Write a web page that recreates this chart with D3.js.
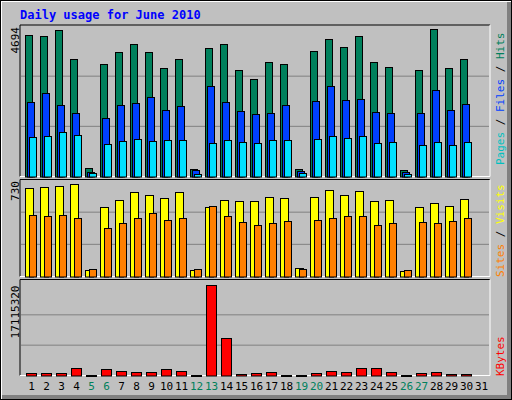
<!DOCTYPE html>
<html><head><meta charset="utf-8">
<script src="https://cdn.jsdelivr.net/npm/d3@7"></script>
<style>body{margin:0;background:#fff}svg{display:block}text{font-family:'DejaVu Sans Mono',monospace}</style>
</head><body>
<div id="chart"></div>
<script>
const days = d3.range(1, 32)
const weekend = [5, 6, 12, 13, 19, 20, 26, 27]
const hits = [4412,4371,4559,3651,272,3495,3871,4121,3871,3370,3651,241,3996,4121,3307,3026,3558,3495,241,3902,4277,4027,4371,3558,3401,210,3307,4590,3370,3651,0]
const files = [2337,2619,2243,1993,147,1837,2243,2306,2494,2087,2212,210,2838,2337,2056,1962,1993,2243,178,2369,2838,2400,2431,2024,1993,147,1993,2713,2087,2275,0]
const pages = [1242,1273,1399,1305,116,1023,1117,1180,1117,1148,1148,84,1054,1148,1086,1054,1148,1148,116,1180,1273,1211,1273,1054,1086,84,992,1086,992,1086,0]
const visits = [667,674,682,697,51,522,575,636,613,591,636,51,522,575,568,568,598,591,66,598,651,613,644,568,575,43,522,553,537,583,0]
const sites = [469,461,469,439,59,370,401,439,477,431,439,59,537,454,416,393,401,423,59,431,446,454,461,393,408,51,416,408,423,446,0]
const kbytes = [564000,564000,564000,1320000,188000,1130000,940000,752000,752000,1130000,940000,188000,17115320,6960000,376000,564000,752000,188000,188000,564000,940000,752000,1320000,1500000,752000,188000,564000,752000,376000,376000,0]
const maxHits = 4694, maxVisits = 730, maxKbytes = 17115320

const svg = d3.select('#chart').append('svg').attr('width', 512).attr('height', 400)
svg.append('rect').attr('width', 512).attr('height', 400).attr('fill', '#000')
svg.append('rect').attr('x', 1).attr('y', 1).attr('width', 510).attr('height', 398).attr('fill', '#fff')
svg.append('rect').attr('x', 2).attr('y', 2).attr('width', 509).attr('height', 397).attr('fill', '#808080')
svg.append('rect').attr('x', 2).attr('y', 2).attr('width', 505).attr('height', 393).attr('fill', '#c0c0c0')

svg.append('text').attr('x', 20).attr('y', 19).text('Daily usage for June 2010')
	.attr('font-size', '12px').attr('font-weight', 'bold').attr('fill', '#0000ff')

const x = d3.scaleBand().domain(days).range([24, 489])

// panels: [top, bottom]
function panel(y0, y1, vmax, label, top) {
	svg.append('rect').attr('x', 20).attr('y', y0).attr('width', 470).attr('height', y1 - y0)
		.attr('fill', '#c0c0c0').attr('stroke', 'none')
	svg.append('path').attr('d', `M20,${y1}V${y0}H490`).attr('stroke', '#000').attr('fill', 'none')
	svg.append('path').attr('d', `M490,${y0}V${y1}H20`).attr('stroke', '#fff').attr('fill', 'none')
	const y = d3.scaleLinear().domain([0, vmax]).range([y1, top])
	;[1, 2].forEach(i => svg.append('line').attr('x1', 21).attr('x2', 489)
		.attr('y1', y(vmax * i / 3)).attr('y2', y(vmax * i / 3)).attr('stroke', '#808080'))
	svg.append('text').attr('transform', `translate(19,${top + 1}) rotate(-90)`)
		.attr('text-anchor', 'end').attr('font-size', '11px').attr('fill', '#000').text(label)
	return y
}

function bars(y, data, dx, w, color) {
	svg.append('g').selectAll('rect').data(days).enter().append('rect')
		.filter(d => data[d - 1] > 0)
		.attr('x', d => x(d) + dx + 0.5)
		.attr('y', d => Math.round(y(data[d - 1])) + 0.5)
		.attr('width', w)
		.attr('height', d => Math.max(1, y.range()[0] - Math.round(y(data[d - 1]))))
		.attr('fill', color).attr('stroke', '#000')
}

const y1 = panel(25, 176.5, maxHits, '4694', 26)
bars(y1, hits, 1, 7, '#00805c')
bars(y1, files, 3, 7, '#0040ff')
bars(y1, pages, 5, 7, '#00e0ff')

const y2 = panel(179.5, 276.5, maxVisits, '730', 180)
bars(y2, visits, 1, 8, '#ffff00')
bars(y2, sites, 5, 7, '#ff8000')

const y3 = panel(279.5, 375.5, maxKbytes, '17115320', 284.5)
bars(y3, kbytes, 2, 10, '#ff0000')

function legend(yBottom, parts) {
	const t = svg.append('text').attr('transform', `translate(504,${yBottom}) rotate(-90)`)
		.attr('font-size', '11px')
	parts.forEach(p => t.append('tspan').attr('fill', p[1]).text(p[0]))
}
legend(165, [['Pages', '#00c0c0'], [' / ', '#000'], ['Files', '#0040ff'], [' / ', '#000'], ['Hits', '#00805c']])
legend(277, [['Sites', '#ff8000'], [' / ', '#000'], ['Visits', '#ffff00']])
legend(376, [['KBytes', '#ff0000']])

const axis = d3.axisBottom(x).tickSize(0).tickPadding(0)
const ax = svg.append('g').attr('transform', 'translate(0,382)').call(axis)
ax.select('.domain').remove()
ax.selectAll('text').attr('font-size', '11px').attr('font-family', "'DejaVu Sans', sans-serif")
	.attr('dy', '0.7em').attr('fill', d => weekend.includes(d) ? '#00805c' : '#000')
</script>
</body></html>
